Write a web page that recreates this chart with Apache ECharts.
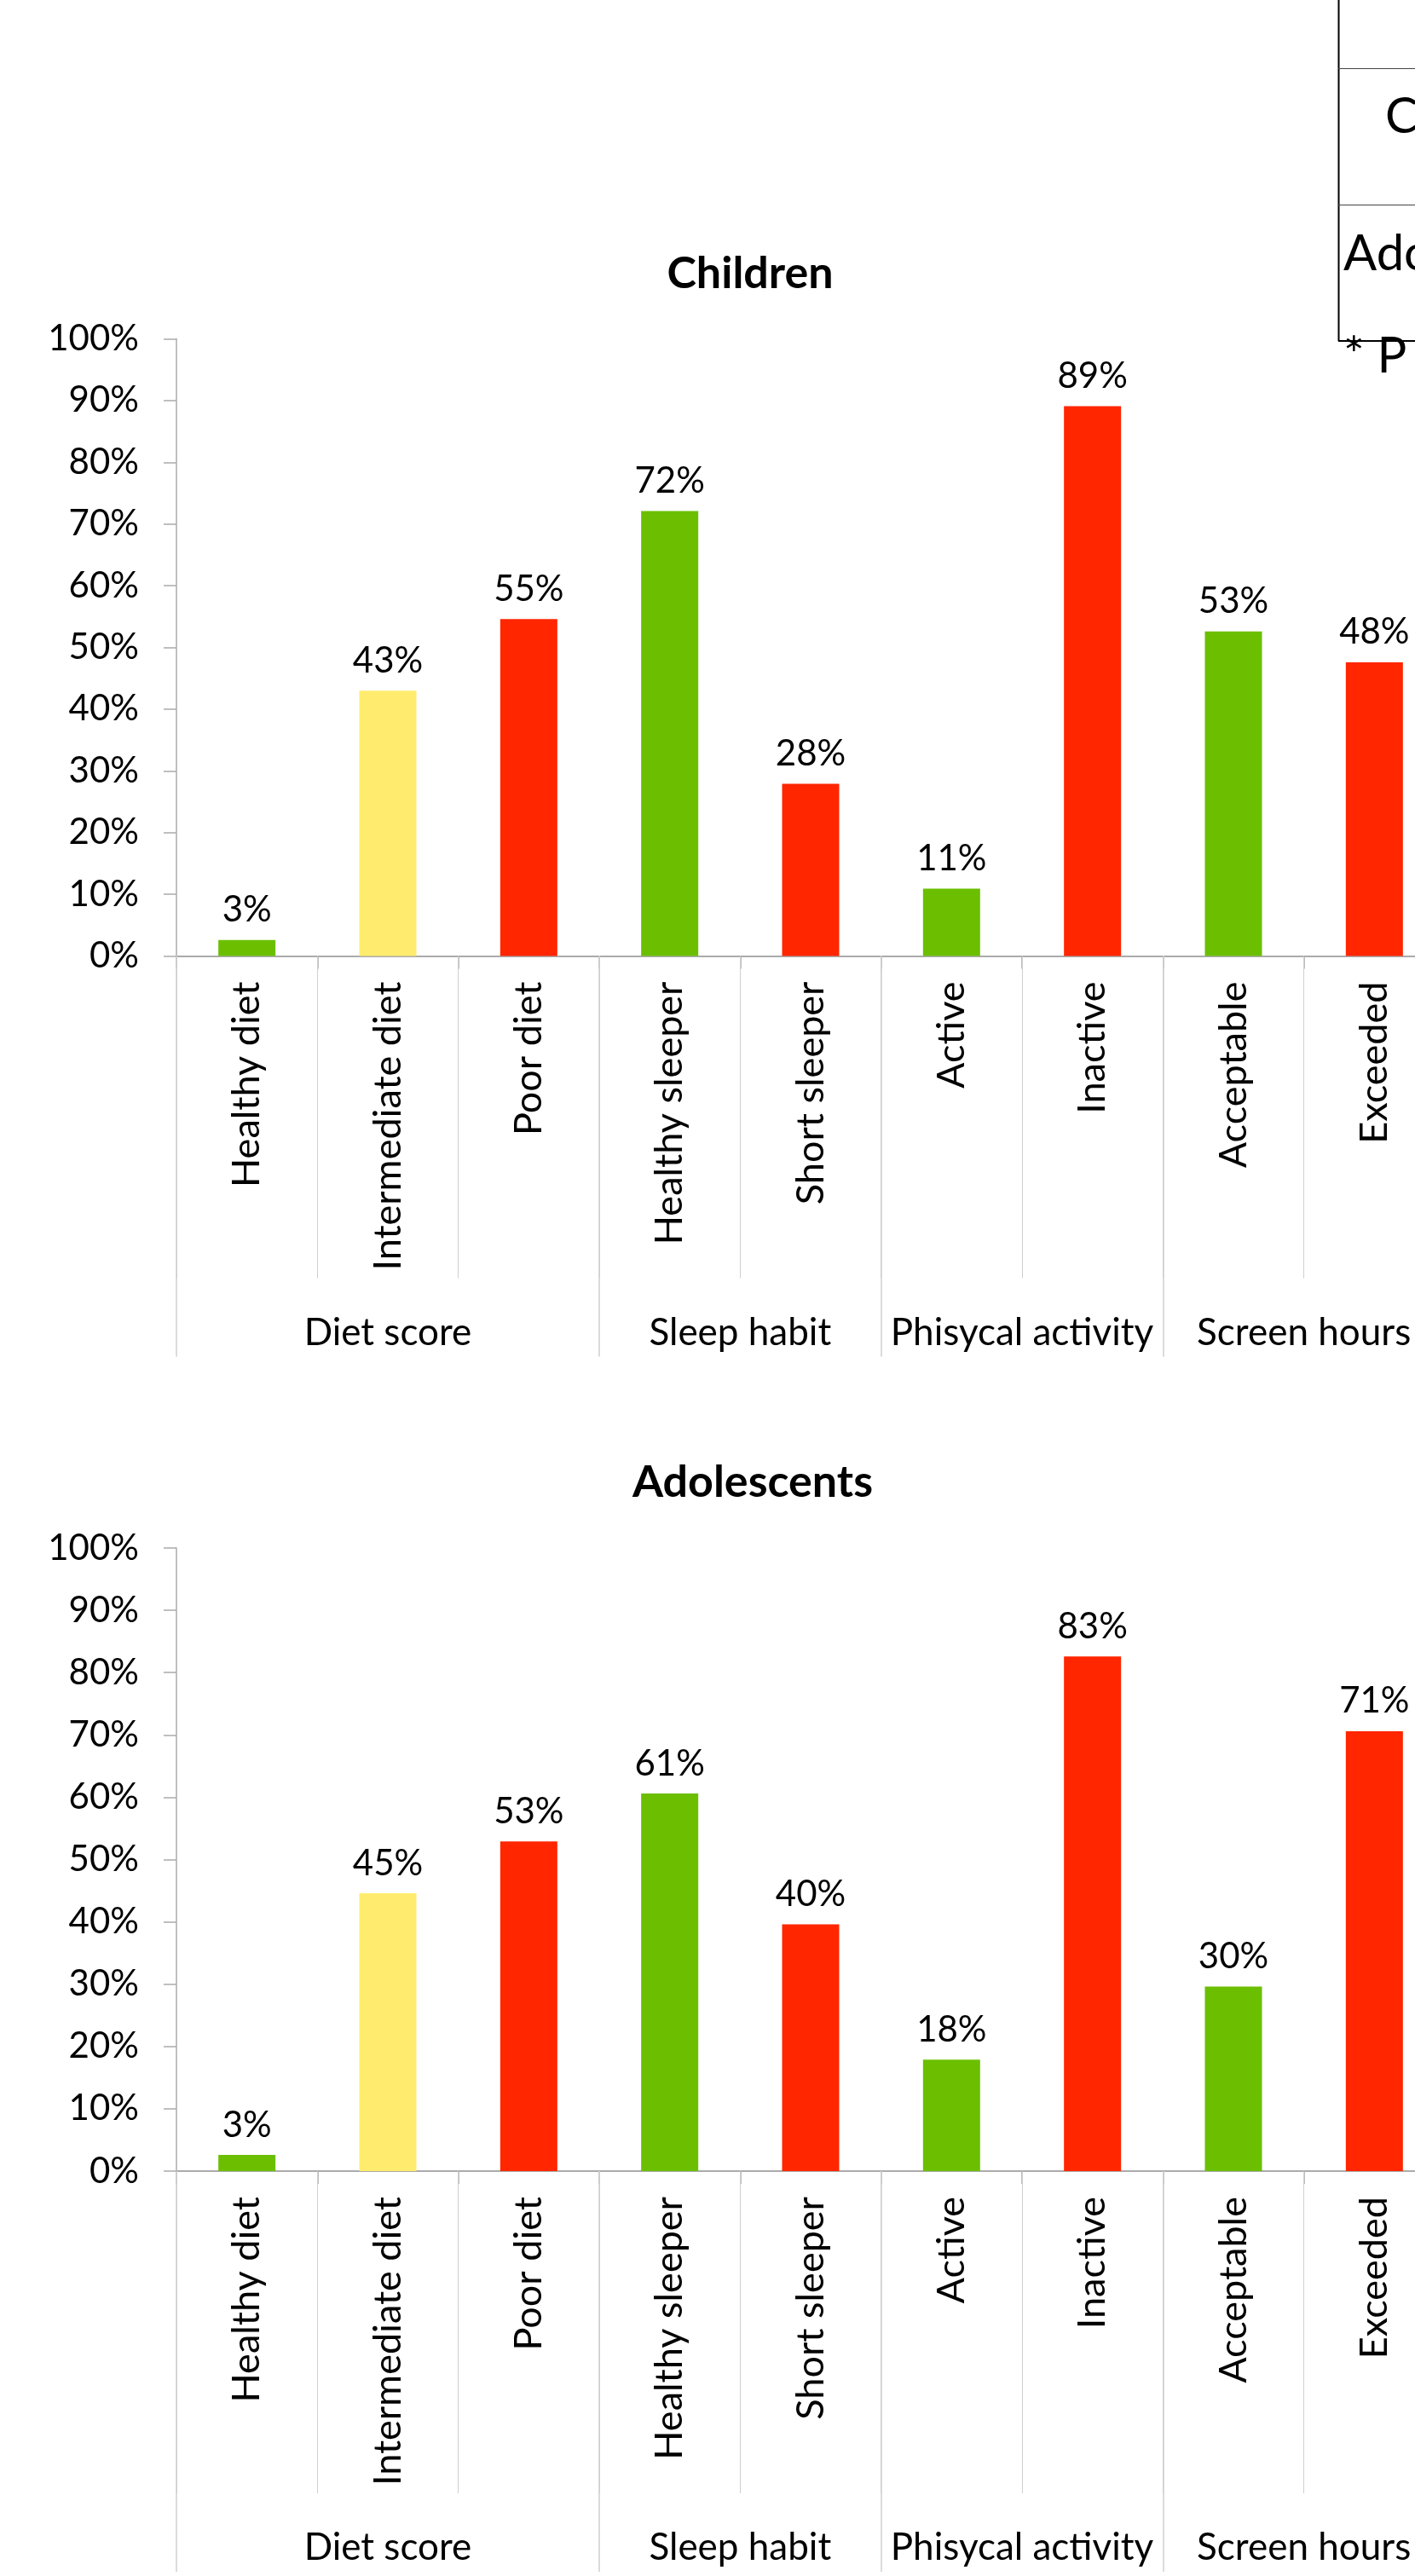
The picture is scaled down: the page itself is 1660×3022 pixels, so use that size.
<!DOCTYPE html>
<html><head><meta charset="utf-8">
<script src="https://cdn.jsdelivr.net/npm/echarts@6/dist/echarts.min.js"></script>
<style>html,body{margin:0;padding:0;background:#fff}#c{width:1660px;height:3022px}</style>
</head><body><div id="c"></div>
<script>
// ---------- data ----------
const categories = ['Healthy diet','Intermediate diet','Poor diet','Healthy sleeper','Short sleeper','Active','Inactive','Acceptable','Exceeded'];
const categoryLevel = ['good','mid','bad','good','bad','good','bad','good','bad'];
const groupNames = ['Diet score','Sleep habit','Phisycal activity','Screen hours'];
const groupSizes = [3,2,2,2];
const childrenValues = [2.6, 43.0, 54.6, 72.1, 27.9, 10.9, 89.1, 52.6, 47.6];
const adolescentValues = [2.6, 44.6, 52.9, 60.6, 39.6, 17.9, 82.6, 29.6, 70.6];
const yTickLabels = ['0%','10%','20%','30%','40%','50%','60%','70%','80%','90%','100%'];
const chartTitles = ['Children','Adolescents'];
const tableRows = ['Children','Adolescents'];
const tableNote = '* P';

// ---------- style / layout ----------
const FONT = 'Lato, sans-serif';
const levelColor = {good:'#6BBF00', mid:'#FFEC6E', bad:'#FF2600'};
const AXIS = '#ababab', LIGHT = '#cfcfcf';
const panels = [
  {top:397.5, height:724, titleX:880, titleY:321, values:childrenValues, title:chartTitles[0]},
  {top:1816,  height:731, titleX:883, titleY:1739, values:adolescentValues, title:chartTitles[1]}
];
const groupEdges = [0];
groupSizes.forEach(s => groupEdges.push(groupEdges[groupEdges.length-1] + s));
const groupMids = groupSizes.map((s,i) => groupEdges[i] + s/2);

const grid = [], xAxis = [], yAxis = [], series = [], graphic = [];
panels.forEach((p, g) => {
  grid.push({left:207, top:p.top, width:1488, height:p.height, containLabel:false, outerBoundsMode:'none'});
  yAxis.push({
    gridIndex:g, type:'value', min:0, max:100, interval:10,
    axisLine:{show:true, lineStyle:{color:AXIS, width:1.5}},
    axisTick:{show:true, length:15, lineStyle:{color:AXIS, width:1.5}},
    splitLine:{show:false},
    axisLabel:{margin:44, fontFamily:FONT, fontSize:42, color:'#000',
      formatter:v => yTickLabels[Math.round(v/10)]}
  });
  // main category axis (labels + short ticks)
  xAxis.push({
    gridIndex:g, type:'category', data:categories, position:'bottom',
    axisLine:{show:true, lineStyle:{color:AXIS, width:2}},
    axisTick:{show:true, interval:0, length:15, lineStyle:{color:AXIS, width:1.5}},
    axisLabel:{interval:0, rotate:90, margin:30, fontFamily:FONT, fontSize:45, color:'#000', hideOverlap:false}
  });
  // long light separators between categories
  xAxis.push({
    gridIndex:g, type:'category', data:categories, position:'bottom',
    axisLine:{show:false},
    axisTick:{show:true, interval:0, length:378, lineStyle:{color:LIGHT, width:1}},
    axisLabel:{show:false}
  });
  // group level
  xAxis.push({
    gridIndex:g, type:'value', min:0, max:categories.length, position:'bottom',
    axisLine:{show:false}, splitLine:{show:false},
    axisTick:{show:true, customValues:groupEdges, length:470, lineStyle:{color:LIGHT, width:1.5}},
    axisLabel:{show:true, customValues:groupMids, margin:420, fontFamily:FONT, fontSize:44, color:'#000',
      hideOverlap:false, formatter:v => groupNames[groupMids.indexOf(v)]}
  });
  series.push({
    type:'bar', xAxisIndex:g*3, yAxisIndex:g, barWidth:67,
    data:p.values.map((v,i) => ({value:v, itemStyle:{color:levelColor[categoryLevel[i]]}})),
    label:{show:true, position:'top', distance:14, fontFamily:FONT, fontSize:42, color:'#000',
      formatter:q => Math.round(q.value) + '%'}
  });
  graphic.push({type:'text', x:p.titleX, y:p.titleY, style:{text:p.title, font:'bold 52px ' + FONT,
    fill:'#000', textAlign:'center', textVerticalAlign:'middle', align:'center', verticalAlign:'middle'}});
});

// partial table at top right
graphic.push({type:'line', shape:{x1:1570.5, y1:0, x2:1570.5, y2:400}, style:{stroke:'#000', lineWidth:2}});
graphic.push({type:'line', shape:{x1:1570, y1:400, x2:1660, y2:400}, style:{stroke:'#000', lineWidth:2}});
graphic.push({type:'line', shape:{x1:1570, y1:80.5, x2:1660, y2:80.5}, style:{stroke:'#444', lineWidth:1}});
graphic.push({type:'line', shape:{x1:1570, y1:240.5, x2:1660, y2:240.5}, style:{stroke:'#444', lineWidth:1}});
[[tableRows[0],1625,137.5],[tableRows[1],1576,298],[tableNote,1576,418]].forEach(t => {
  graphic.push({type:'text', x:t[1], y:t[2], style:{text:t[0], font:'58px ' + FONT, fill:'#000',
    textAlign:'left', textVerticalAlign:'middle', align:'left', verticalAlign:'middle'}});
});

const chart = echarts.init(document.getElementById('c'), null, {renderer:'canvas'});
chart.setOption({animation:false, backgroundColor:'#fff', grid, xAxis, yAxis, series, graphic});
</script></body></html>
